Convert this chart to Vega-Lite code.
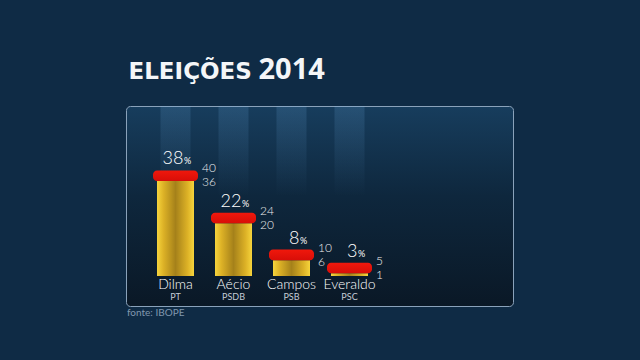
{
  "$schema": "https://vega.github.io/schema/vega-lite/v6.json",
  "width": 387,
  "height": 200,
  "autosize": {"type": "none"},
  "padding": {"left": 126, "top": 106, "right": 127, "bottom": 54},
  "background": "#0f2b45",
  "title": {
    "text": "fonte: IBOPE",
    "orient": "bottom",
    "anchor": "start",
    "frame": "group",
    "offset": 2,
    "dx": 1,
    "fontSize": 10,
    "font": "Lato",
    "fontWeight": "normal",
    "color": "#8097ae"
  },
  "view": {
    "fill": {
      "gradient": "linear",
      "x1": 0, "y1": 0, "x2": 0, "y2": 1,
      "stops": [
        {"offset": 0, "color": "#173d5d"},
        {"offset": 0.45, "color": "#0e273d"},
        {"offset": 1, "color": "#0a1826"}
      ]
    },
    "stroke": "#8aa2ba",
    "strokeWidth": 1,
    "cornerRadius": 4
  },
  "data": {
    "values": [
      {"candidato": "Dilma", "partido": "PT", "valor": 38, "min": 36, "max": 40},
      {"candidato": "Aécio", "partido": "PSDB", "valor": 22, "min": 20, "max": 24},
      {"candidato": "Campos", "partido": "PSB", "valor": 8, "min": 6, "max": 10},
      {"candidato": "Everaldo", "partido": "PSC", "valor": 3, "min": 1, "max": 5}
    ]
  },
  "encoding": {
    "x": {
      "field": "candidato",
      "type": "nominal",
      "sort": null,
      "scale": {"range": [20.5, 252.5], "paddingInner": 0, "paddingOuter": 0},
      "axis": {
        "orient": "top",
        "labels": false,
        "ticks": false,
        "domain": false,
        "grid": false,
        "title": "ELEIÇÕES",
        "titleX": 2,
        "titleY": -28,
        "titleAlign": "left",
        "titleAnchor": null,
        "titleBaseline": "alphabetic",
        "titleFont": "DejaVu Sans",
        "titleFontWeight": "bold",
        "titleFontSize": 23,
        "titleColor": "#f4f6f8"
      }
    }
  },
  "layer": [
    {
      "mark": {
        "type": "bar",
        "width": 30,
        "fill": {
          "gradient": "linear",
          "x1": 0, "y1": 0, "x2": 0, "y2": 1,
          "stops": [
            {"offset": 0, "color": "rgba(120,185,240,0.16)"},
            {"offset": 1, "color": "rgba(120,185,240,0)"}
          ]
        }
      },
      "encoding": {
        "y": {
          "datum": 64.4,
          "type": "quantitative",
          "scale": {"domain": [0, 64.4], "range": [170, 0], "nice": false, "zero": true},
          "axis": {
            "labels": false,
            "ticks": false,
            "domain": false,
            "grid": false,
            "title": "2014",
            "titleAngle": 0,
            "titleX": 132,
            "titleY": -28,
            "titleAlign": "left",
            "titleAnchor": null,
            "titleBaseline": "alphabetic",
            "titleFont": "Open Sans",
            "titleFontWeight": "bold",
            "titleFontSize": 29,
            "titleColor": "#f4f6f8"
          }
        },
        "y2": {"datum": 30}
      }
    },
    {
      "mark": {"type": "rule", "stroke": "#aab7c6", "strokeWidth": 1.2, "opacity": 0.7},
      "encoding": {"y": {"datum": 0, "type": "quantitative"}}
    },
    {
      "mark": {
        "type": "bar",
        "width": 37,
        "fill": {
          "gradient": "linear",
          "x1": 0, "y1": 0, "x2": 1, "y2": 0,
          "stops": [
            {"offset": 0, "color": "#f6d43c"},
            {"offset": 0.18, "color": "#dcb126"},
            {"offset": 0.5, "color": "#a5811a"},
            {"offset": 0.82, "color": "#dcb126"},
            {"offset": 1, "color": "#f6d43c"}
          ]
        }
      },
      "encoding": {
        "y": {"field": "min", "type": "quantitative"},
        "y2": {"datum": 0}
      }
    },
    {
      "mark": {
        "type": "bar",
        "width": 45,
        "cornerRadius": 4,
        "fill": {
          "gradient": "linear",
          "x1": 0, "y1": 0, "x2": 0, "y2": 1,
          "stops": [
            {"offset": 0, "color": "#f0180c"},
            {"offset": 1, "color": "#d80e08"}
          ]
        }
      },
      "encoding": {
        "y": {"field": "min", "type": "quantitative"},
        "y2": {"field": "max"}
      }
    },
    {
      "mark": {"type": "text", "align": "right", "baseline": "alphabetic", "dx": 8, "dy": -6, "font": "Lato", "fontWeight": 300, "fontSize": 18, "fill": "#ffffff"},
      "encoding": {
        "y": {"field": "max", "type": "quantitative"},
        "text": {"field": "valor"}
      }
    },
    {
      "mark": {"type": "text", "align": "left", "baseline": "alphabetic", "dx": 8.5, "dy": -6, "font": "Lato", "fontSize": 9, "fill": "#ffffff"},
      "encoding": {
        "y": {"field": "max", "type": "quantitative"},
        "text": {"value": "%"}
      }
    },
    {
      "mark": {"type": "text", "align": "left", "baseline": "middle", "dx": 26.5, "dy": -2, "font": "Lato", "fontWeight": 300, "fontSize": 12, "fill": "#eeeeee"},
      "encoding": {
        "y": {"field": "max", "type": "quantitative"},
        "text": {"field": "max"}
      }
    },
    {
      "mark": {"type": "text", "align": "left", "baseline": "middle", "dx": 26.5, "dy": 1.5, "font": "Lato", "fontWeight": 300, "fontSize": 12, "fill": "#eeeeee"},
      "encoding": {
        "y": {"field": "min", "type": "quantitative"},
        "text": {"field": "min"}
      }
    },
    {
      "mark": {"type": "text", "align": "center", "baseline": "alphabetic", "dy": 13, "font": "Lato", "fontWeight": 300, "fontSize": 14, "fill": "#ffffff"},
      "encoding": {
        "y": {"datum": 0, "type": "quantitative"},
        "text": {"field": "candidato"}
      }
    },
    {
      "mark": {"type": "text", "align": "center", "baseline": "alphabetic", "dy": 23.5, "font": "Lato", "fontSize": 9, "fill": "#c3ccd6"},
      "encoding": {
        "y": {"datum": 0, "type": "quantitative"},
        "text": {"field": "partido"}
      }
    }
  ]
}
